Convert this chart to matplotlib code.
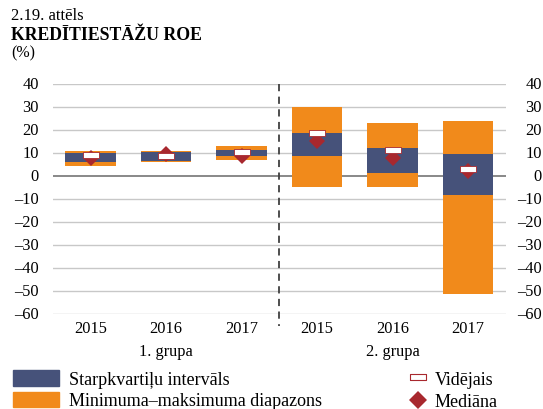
import matplotlib
matplotlib.use("Agg")
import matplotlib.pyplot as plt
from matplotlib.patches import Rectangle
from matplotlib.lines import Line2D
from matplotlib.transforms import offset_copy, blended_transform_factory

plt.rcParams['font.family'] = ['Liberation Serif', 'DejaVu Serif']

years = ["2015", "2016", "2017", "2015", "2016", "2017"]
groups = ["1. grupa", "2. grupa"]
min_vals = [4.3, 6.1, 7.0, -4.6, -5.0, -51.5]
max_vals = [11.0, 10.9, 12.9, 30.0, 23.0, 24.0]
q1_vals = [6.1, 6.5, 8.6, 8.8, 1.2, -8.1]
q3_vals = [10.0, 10.4, 11.3, 18.9, 12.2, 9.6]
mean_vals = [9.1, 8.8, 10.3, 18.6, 11.1, 3.0]
median_vals = [7.7, 9.5, 8.8, 15.3, 7.8, 2.3]
yticks = [40, 30, 20, 10, 0, -10, -20, -30, -40, -50, -60]

BLUE = "#46527A"
ORANGE = "#F18A1B"
RED = "#A8282E"
TFS = 11.8
LFS = 13

fig = plt.figure(figsize=(5.43, 4.10), dpi=100)
ax = fig.add_axes([0.0976, 0.2317, 0.834, 0.561])

x = list(range(len(years)))
w = 0.67
ax.bar(x, [mx - mn for mx, mn in zip(max_vals, min_vals)], bottom=min_vals,
       width=w, color=ORANGE, zorder=2)
ax.bar(x, [q3 - q1 for q3, q1 in zip(q3_vals, q1_vals)], bottom=q1_vals,
       width=w, color=BLUE, zorder=3)
ax.plot(x, median_vals, linestyle='none', marker='D', markersize=8.5,
        color=RED, markeredgewidth=0, zorder=4)
rect = [(-1, -0.33), (1, -0.33), (1, 0.33), (-1, 0.33), (-1, -0.33)]
ax.plot(x, mean_vals, linestyle='none', marker=rect, markersize=11.5,
        markerfacecolor='white', markeredgecolor=RED, markeredgewidth=0.6,
        zorder=5)

ax.set_xlim(-0.5, 5.5)
ax.set_ylim(-60, 40)
ax.set_yticks([])
for t in yticks:
    if t == 0:
        ax.axhline(t, color='#7F7F7F', lw=1.3, zorder=1)
    else:
        ax.axhline(t, color='#C8C8C8', lw=1.0, zorder=1)

# y tick labels (left and right), en dash for negatives
left_tr = offset_copy(ax.transData, fig=fig, x=-14, y=0, units='dots')
right_tr = blended_transform_factory(fig.transFigure, ax.transData)
for t in yticks:
    lab = str(t).replace('-', '\u2013')
    ax.text(-0.5, t, lab, transform=left_tr, ha='right', va='center',
            fontsize=TFS)
    ax.text(542 / 543, t, lab, transform=right_tr, ha='right', va='center',
            fontsize=TFS)

ax.set_xticks(x)
ax.set_xticklabels(years, fontsize=TFS)
ax.tick_params(axis='x', length=0, pad=4)
for s in ax.spines.values():
    s.set_visible(False)

# dashed separator
ax.add_line(Line2D([2.5, 2.5], [40, -65], color='#404040', lw=1.3,
                   linestyle=(0, (4, 3)), clip_on=False, zorder=6))

# group labels
ax.text(1, -0.161, groups[0], transform=ax.get_xaxis_transform(),
        ha='center', va='center', fontsize=TFS)
ax.text(4, -0.161, groups[1], transform=ax.get_xaxis_transform(),
        ha='center', va='center', fontsize=TFS)

# titles
fig.text(11 / 543, 1 - 20 / 410, "2.19. attēls", fontsize=12, va='baseline')
fig.text(11 / 543, 1 - 40 / 410, "KREDĪTIESTĀŽU ROE", fontsize=12.8,
         fontweight='bold', va='baseline')
fig.text(11 / 543, 1 - 57 / 410, "(%)", fontsize=11.5, va='baseline')

# legend
fig.patches.append(Rectangle((13 / 543, 1 - 387 / 410), 46 / 543, 16 / 410,
                             transform=fig.transFigure, color=BLUE))
fig.patches.append(Rectangle((13 / 543, 1 - 408 / 410), 46 / 543, 15.5 / 410,
                             transform=fig.transFigure, color=ORANGE))
fig.text(69 / 543, 1 - 385 / 410, "Starpkvartiļu intervāls", fontsize=LFS,
         va='baseline')
fig.text(69 / 543, 1 - 406.5 / 410, "Minimuma–maksimuma diapazons",
         fontsize=LFS, va='baseline')
fig.lines.append(Line2D([418 / 543], [1 - 378 / 410], transform=fig.transFigure,
                        marker=rect, markersize=12, markerfacecolor='white',
                        markeredgecolor=RED, markeredgewidth=0.8,
                        linestyle='none'))
fig.lines.append(Line2D([418 / 543], [1 - 401 / 410], transform=fig.transFigure,
                        marker='D', markersize=9, color=RED,
                        markeredgewidth=0, linestyle='none'))
fig.text(435 / 543, 1 - 385.5 / 410, "Vidējais", fontsize=LFS, va='baseline')
fig.text(435 / 543, 1 - 407 / 410, "Mediāna", fontsize=LFS, va='baseline')

fig.savefig("out.png", dpi=100)
